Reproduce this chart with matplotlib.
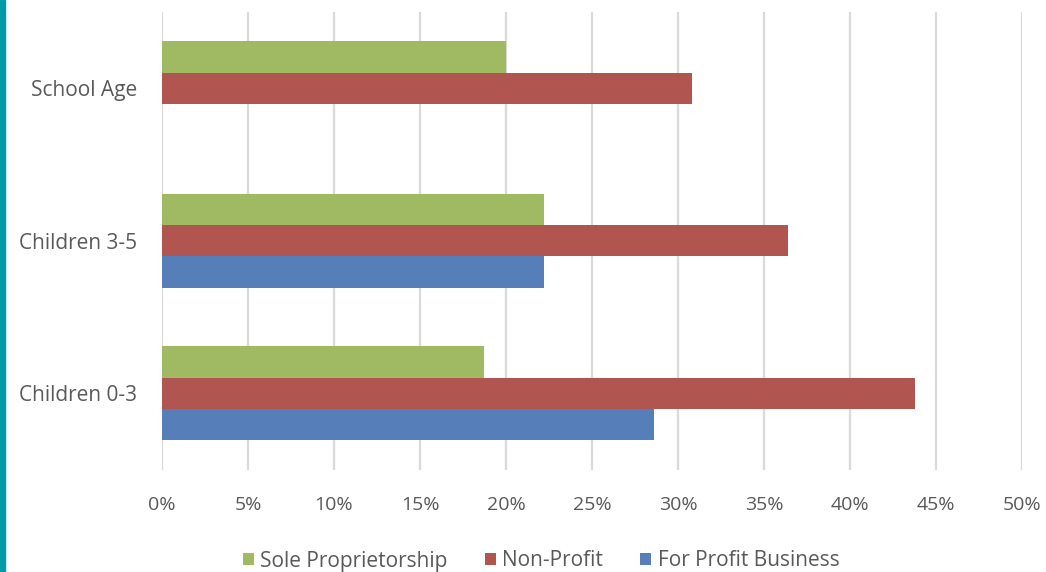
import matplotlib
matplotlib.use("Agg")
import matplotlib.pyplot as plt
from matplotlib.patches import Rectangle
from matplotlib.ticker import FuncFormatter, MultipleLocator
import numpy as np

categories = ["Children 0-3", "Children 3-5", "School Age"]
sole_prop = [18.7, 22.2, 20.0]
non_profit = [43.8, 36.4, 30.8]
for_profit = [28.6, 22.2, 0.0]
series_names = ["Sole Proprietorship", "Non-Profit", "For Profit Business"]
colors = ["#9FBA62", "#B0554F", "#567EB8"]

plt.rcParams['font.family'] = ['Open Sans', 'DejaVu Sans']

fig = plt.figure(figsize=(10.46, 5.72), dpi=100)
fig.patch.set_facecolor("white")
ax = fig.add_axes([162/1046, 1-469.5/572, (1022-162)/1046, (469.5-12)/572])

y = np.arange(len(categories))
h = 0.205
offsets = [h, 0, -h]
for vals, off, c, name in zip([sole_prop, non_profit, for_profit], offsets, colors, series_names):
    ax.barh(y + off, vals, height=h, color=c, edgecolor="none", label=name, zorder=3)

ax.set_xlim(0, 50)
ax.set_ylim(-0.5, 2.5)
ax.xaxis.set_major_locator(MultipleLocator(5))
ax.xaxis.set_major_formatter(FuncFormatter(lambda v, p: f"{int(round(v))}%"))
ax.set_yticks(y)
ax.set_yticklabels(categories)
ax.grid(axis="x", color="#D9D9D9", linewidth=1.6, zorder=0)
ax.grid(axis="y", visible=False)
for s in ax.spines.values():
    s.set_visible(False)
ax.tick_params(axis="x", length=0, pad=19, labelsize=14, labelcolor="#595959")
ax.tick_params(axis="y", length=0, pad=18, labelsize=15, labelcolor="#595959")

# teal stripe at the left edge
fig.add_artist(Rectangle((0, 0), 5/1046, 1, transform=fig.transFigure, color="#0099A8", zorder=10))

handles, labels = ax.get_legend_handles_labels()
leg = fig.legend(handles, labels, loc="center", bbox_to_anchor=(541/1046, 1-561/572), ncol=3,
                 frameon=False, handlelength=0.53, handleheight=0.53, handletextpad=0.3,
                 columnspacing=1.8, fontsize=15)
for t in leg.get_texts():
    t.set_color("#595959")

fig.savefig("out.png", dpi=100, facecolor="white")
